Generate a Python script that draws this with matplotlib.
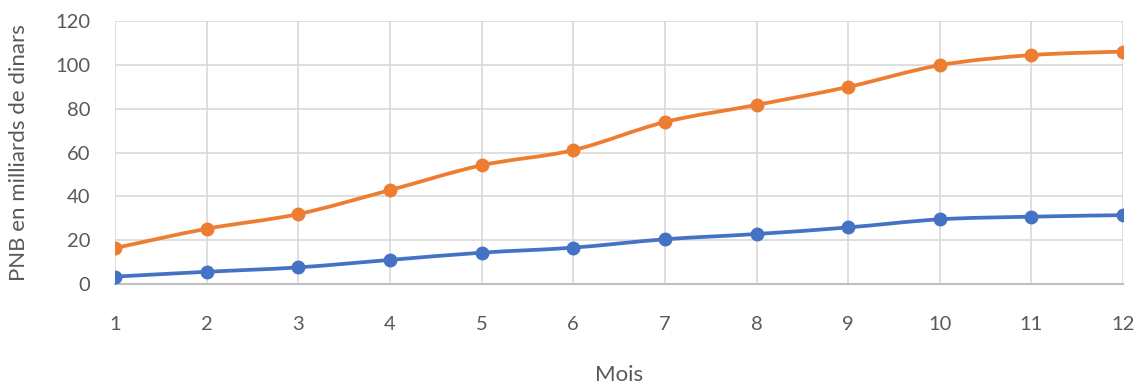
import matplotlib
matplotlib.use("Agg")
import matplotlib.pyplot as plt
from matplotlib.path import Path
from matplotlib.patches import PathPatch
import numpy as np

plt.rcParams['font.family'] = ['Lato', 'DejaVu Sans']

mois = [1, 2, 3, 4, 5, 6, 7, 8, 9, 10, 11, 12]
serie_orange = [16.5, 25.3, 32.0, 42.9, 54.2, 61.1, 73.9, 81.7, 89.9, 99.8, 104.4, 106.0]
serie_bleue = [3.5, 5.7, 7.7, 11.1, 14.4, 16.7, 20.5, 22.9, 25.9, 29.6, 30.8, 31.5]


def smooth_path(x, y, k=1/6):
    # excel style smoothing: bezier through every point (catmull-rom)
    x = np.asarray(x, float)
    y = np.asarray(y, float)
    verts = [(x[0], y[0])]
    codes = [Path.MOVETO]
    n = len(x)
    for i in range(n - 1):
        i0 = max(i - 1, 0)
        i3 = min(i + 2, n - 1)
        c1 = (x[i] + (x[i + 1] - x[i0]) * k, y[i] + (y[i + 1] - y[i0]) * k)
        c2 = (x[i + 1] - (x[i3] - x[i]) * k, y[i + 1] - (y[i3] - y[i]) * k)
        verts += [c1, c2, (x[i + 1], y[i + 1])]
        codes += [Path.CURVE4] * 3
    return Path(verts, codes)


fig = plt.figure(figsize=(11.39, 3.86), dpi=100)
ax = fig.add_axes([0.101, 0.2635, 0.885, 0.6825])

for vals, col in [(serie_bleue, '#4472C4'), (serie_orange, '#ED7D31')]:
    ax.add_patch(PathPatch(smooth_path(mois, vals), fill=False, edgecolor=col,
                           lw=2.7, capstyle='round', zorder=3))
    ax.plot(mois, vals, 'o', color=col, ms=9, zorder=4)

ax.set_xlim(1, 12)
ax.set_ylim(0, 120)
ax.set_xticks(mois)
ax.set_yticks(range(0, 121, 20))
ax.grid(True, color='#d9d9d9', lw=1.2)
ax.set_axisbelow(True)
for s in ['top', 'left', 'right']:
    ax.spines[s].set_visible(False)
ax.spines['bottom'].set_color('#bfbfbf')
ax.spines['bottom'].set_linewidth(1.5)
ax.tick_params(length=0, labelsize=14.5, labelcolor='#595959')
ax.tick_params(axis='x', pad=23)
ax.tick_params(axis='y', pad=18)

ax.set_xlabel('Mois', fontsize=16, color='#595959', labelpad=23)
ax.set_ylabel('PNB en milliards de dinars', fontsize=16, color='#595959', labelpad=19)

fig.savefig('out.png', dpi=100)
